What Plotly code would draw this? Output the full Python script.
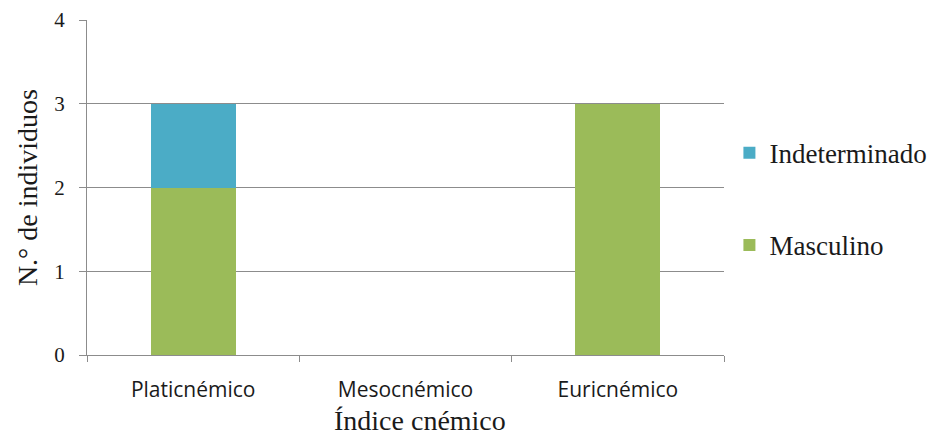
import plotly.graph_objects as go

categories = ["Platicnémico", "Mesocnémico", "Euricnémico"]
masculino = [2, 0, 3]
indeterminado = [1, 0, 0]
y_ticks = [0, 1, 2, 3, 4]
x_title = "Índice cnémico"
y_title = "N.° de individuos"

serif = "Liberation Serif"
sans = "Open Sans"
grid = "#8c8c8c"

fig = go.Figure()
fig.add_trace(go.Bar(x=categories, y=masculino, name="Masculino",
                     marker=dict(color="#9BBB59", line=dict(width=0)),
                     width=0.4, legendgroup="m", legendrank=2))
fig.add_trace(go.Bar(x=categories, y=indeterminado, name="Indeterminado",
                     marker=dict(color="#4BACC6", line=dict(width=0)),
                     width=0.4, legendgroup="i", legendrank=1))

fig.update_layout(
    barmode="stack",
    width=932, height=436,
    margin=dict(l=87, r=208, t=20, b=81, autoexpand=False),
    plot_bgcolor="white", paper_bgcolor="white",
    font=dict(family=serif, color="#1a1a1a"),
    showlegend=True,
    legend=dict(x=1.0085, y=0.465, xanchor="left", yanchor="middle",
                traceorder="grouped", tracegroupgap=54,
                itemwidth=30,
                font=dict(family=serif, size=27, color="#1a1a1a"),
                bgcolor="rgba(0,0,0,0)"),
    xaxis=dict(
        type="category",
        tickson="boundaries",
        ticks="outside", ticklen=6, tickcolor=grid, tickwidth=1,
        showline=True, linecolor=grid, linewidth=1,
        showgrid=False,
        tickfont=dict(family=sans, size=21, color="#1a1a1a"),
        ticklabelstandoff=16,
    ),
    yaxis=dict(
        range=[0, 4], tickvals=y_ticks,
        ticks="outside", ticklen=7, tickcolor=grid, tickwidth=1,
        showline=True, linecolor=grid, linewidth=1,
        showgrid=True, gridcolor=grid, gridwidth=1,
        zeroline=False,
        tickfont=dict(family=serif, size=21, color="#1a1a1a"),
        ticklabelstandoff=10,
    ),
    annotations=[
        dict(text=x_title, xref="paper", yref="paper", x=0.5228, y=-0.197,
             xanchor="center", yanchor="middle", showarrow=False,
             font=dict(family=serif, size=28, color="#1a1a1a")),
        dict(text=y_title, xref="paper", yref="paper", x=-0.094, y=0.4985,
             xanchor="center", yanchor="middle", showarrow=False, textangle=-90,
             font=dict(family=serif, size=28, color="#1a1a1a")),
    ],
)

fig.write_html("out.html")
